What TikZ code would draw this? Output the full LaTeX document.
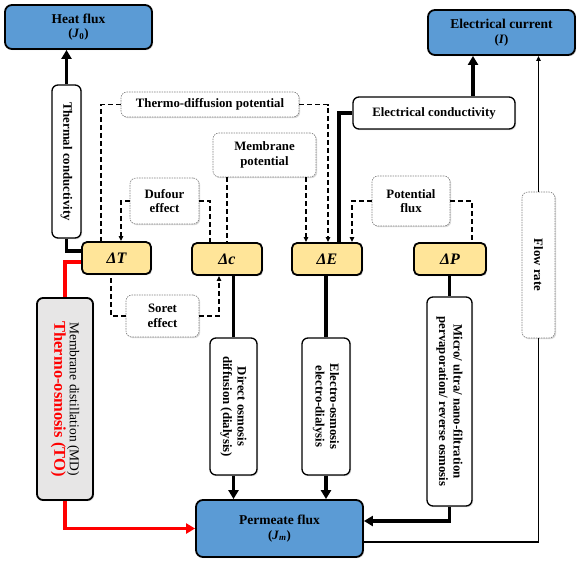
\documentclass[tikz,border=0pt]{standalone}
\usepackage{fontspec}
\setmainfont{Liberation Serif}
\usetikzlibrary{arrows.meta,shadows}
\definecolor{fluxblue}{RGB}{91,155,213}
\definecolor{deltayellow}{RGB}{255,229,153}
\definecolor{mdgray}{RGB}{231,230,230}
\begin{document}
\begin{tikzpicture}[
x=1pt,y=-1pt,
font=\fontsize{12.8}{14.5}\selectfont\bfseries,
shade/.style={drop shadow={opacity=0.3,shadow xshift=1.2pt,shadow yshift=-1.2pt}},
fluxbox/.style={draw,line width=1.8pt,rounded corners=7pt,fill=fluxblue,align=center,inner sep=2pt,shade},
deltabox/.style={draw,line width=1.8pt,rounded corners=5pt,fill=deltayellow,inner sep=1pt,
  minimum height=32,font=\fontsize{16}{18}\selectfont\bfseries\itshape,shade},
procbox/.style={draw,line width=1.3pt,rounded corners=6pt,fill=white,align=center,inner sep=2pt,shade},
effectbox/.style={draw=gray,line width=0.6pt,dash pattern=on 1.5pt off 1pt,rounded corners=6pt,
  fill=white,align=center,inner sep=2pt,shade},
thickline/.style={line width=3.6pt},
thickarrow/.style={line width=3.6pt,-{Triangle[length=9pt,width=10pt]}},
redline/.style={line width=3.6pt,red},
redarrow/.style={line width=3.6pt,red,-{Triangle[length=9pt,width=10pt]}},
dashline/.style={line width=1.2pt,dash pattern=on 5pt off 3pt},
dasharrow/.style={dashline,-{Triangle[length=5pt,width=4.5pt]}},
thinline/.style={line width=1.2pt},
thinarrow/.style={thinline,-{Triangle[length=5pt,width=4.5pt]}}]
\path[use as bounding box] (0,0) rectangle (581,565);
% flux boxes
\node[fluxbox,minimum width=147,minimum height=44] (heat) at (78.5,27)
  {\fontsize{13.5}{17}\selectfont Heat flux\\(\textit{J}\textsubscript{0})};
\node[fluxbox,minimum width=147,minimum height=45] (current) at (501.5,32.5)
  {\fontsize{13.5}{17}\selectfont Electrical current\\(\textit{I})};
\node[fluxbox,minimum width=167,minimum height=57] (permeate) at (279.5,528.5)
  {\fontsize{13.5}{17}\selectfont Permeate flux\\(\textit{J}\textsubscript{\textit{m}})};
% driving forces
\node[deltabox,minimum width=69] (dT) at (116.5,258) {ΔT};
\node[deltabox,minimum width=70] (dc) at (227,259) {Δc};
\node[deltabox,minimum width=70] (dE) at (327,259) {ΔE};
\node[deltabox,minimum width=72] (dP) at (450,259) {ΔP};
% coupling effects
\node[effectbox,minimum width=178,minimum height=25] (tdpot) at (210,104.5) {Thermo-diffusion potential};
\node[effectbox,minimum width=103,minimum height=44] (mempot) at (264.5,155) {Membrane\\potential};
\node[effectbox,minimum width=69,minimum height=46] (dufour) at (164.5,201) {Dufour\\effect};
\node[effectbox,minimum width=73,minimum height=42] (soret) at (162.5,316) {Soret\\effect};
\node[effectbox,minimum width=78,minimum height=50] (potflux) at (411,201) {Potential\\flux};
\node[effectbox,rotate=-90,minimum width=146,minimum height=33] (flowrate) at (538.5,265) {Flow rate};
% conductivities and processes
\node[procbox,rotate=-90,minimum width=153,minimum height=29] (thermcond) at (66.5,161.5) {Thermal conductivity};
\node[procbox,minimum width=162,minimum height=32] (elcond) at (434,113) {Electrical conductivity};
\node[procbox,rotate=-90,fill=mdgray,line width=1.8pt,minimum width=202,minimum height=56] (md) at (65,399)
  {{\fontsize{13.5}{15}\selectfont\mdseries Membrane distillation (MD)}\\[1pt]{\fontsize{16.5}{18}\selectfont\color{red}Thermo-osmosis (TO)}};
\node[procbox,rotate=-90,minimum width=137,minimum height=47] (direct) at (233.5,406.5)
  {Direct osmosis\\diffusion (dialysis)};
\node[procbox,rotate=-90,minimum width=137,minimum height=48] (electro) at (326,406.5)
  {Electro-osmosis\\electro-dialysis};
\node[procbox,rotate=-90,minimum width=209,minimum height=45] (micro) at (449.5,401.5)
  {Micro/ ultra/ nano-filtration\\pervaporation/ reverse osmosis};
% heat and electric branches
\draw[thickarrow] (thermcond.west) -- (thermcond.west |- heat.south);
\draw[thickline] (thermcond.east) |- ([yshift=7pt]dT.west);
\draw[redline] ([yshift=-4pt]dT.west) -| (md.west);
\draw[redarrow] (md.east) |- (permeate.west);
\draw[thickline] ([xshift=12pt]dE.north) |- (elcond.west);
\draw[thickarrow] ([xshift=39pt]elcond.north) -- ([xshift=39pt]elcond.north |- current.south);
% coupling connectors
\draw[dashline] (tdpot.west) -| ([xshift=-15.5pt]dT.north);
\draw[dasharrow] (tdpot.east) -| ([xshift=1pt]dE.north);
\draw[dashline] (dc.north |- mempot.south) -- (dc.north);
\draw[dasharrow] ([xshift=-21pt]dE.north |- mempot.south) -- ([xshift=-21pt]dE.north);
\draw[dasharrow] (dufour.west) -| ([xshift=4.5pt]dT.north);
\draw[dashline] (dufour.east) -| ([xshift=-17pt]dc.north);
\draw[dashline] (soret.west) -| ([xshift=-5.5pt]dT.south);
\draw[dasharrow] (soret.east) -| ([xshift=-8pt]dc.south);
\draw[dasharrow] (potflux.west) -| ([xshift=25pt]dE.north);
\draw[dashline] (potflux.east) -| ([xshift=22pt]dP.north);
% permeate branches
\draw[thickline] (direct.west |- dc.south) -- (direct.west);
\draw[thickarrow] (direct.east) -- (direct.east |- permeate.north);
\draw[thickline] (electro.west |- dE.south) -- (electro.west);
\draw[thickarrow] (electro.east) -- (electro.east |- permeate.north);
\draw[thickline] (micro.west |- dP.south) -- (micro.west);
\draw[thickarrow] (micro.east) |- ([yshift=7.5pt]permeate.east);
\draw[thinline] ([yshift=-13.5pt]permeate.east) -| (flowrate.east);
\draw[thinarrow] (flowrate.west) -- (flowrate.west |- current.south);
\end{tikzpicture}
\end{document}
